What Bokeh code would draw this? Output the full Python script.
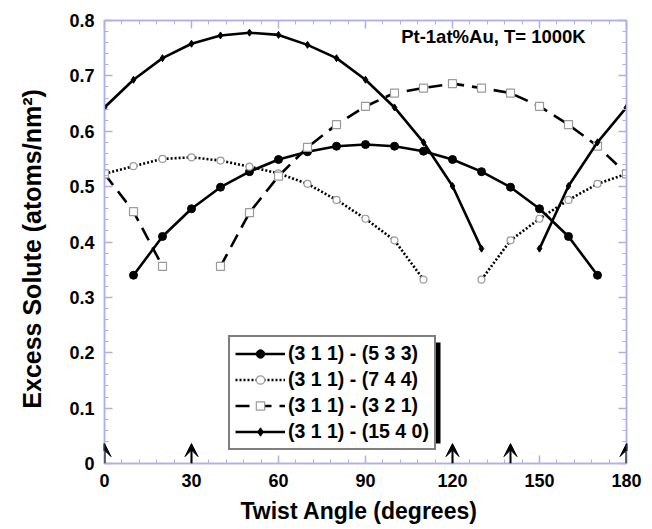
import math
from bokeh.plotting import figure
from bokeh.models import (LinearAxis, Range1d, Legend, LegendItem, Arrow, VeeHead,
                          ColumnDataSource, Label, FixedTicker, CustomJSTickFormatter, BoxAnnotation)
from bokeh.embed import file_html
from bokeh.resources import INLINE

NaN = float("nan")

# (3 1 1) - (5 3 3)
ang_533 = [10, 20, 30, 40, 50, 60, 70, 80, 90, 100, 110, 120, 130, 140, 150, 160, 170]
es_533 = [0.340, 0.410, 0.460, 0.499, 0.527, 0.549, 0.563, 0.573, 0.576, 0.573, 0.564,
          0.549, 0.527, 0.499, 0.460, 0.410, 0.340]

# (3 1 1) - (7 4 4), two branches
ang_744_a = [0, 10, 20, 30, 40, 50, 60, 70, 80, 90, 100, 110]
es_744_a = [0.523, 0.537, 0.550, 0.553, 0.547, 0.536, 0.524, 0.505, 0.476, 0.442, 0.403, 0.332]
ang_744_b = [130, 140, 150, 160, 170, 180]
es_744_b = [0.332, 0.403, 0.442, 0.476, 0.505, 0.523]

# (3 1 1) - (3 2 1), two branches
ang_321_a = [0, 10, 20]
es_321_a = [0.523, 0.455, 0.356]
ang_321_b = [40, 50, 60, 70, 80, 90, 100, 110, 120, 130, 140, 150, 160, 170, 180]
es_321_b = [0.356, 0.453, 0.519, 0.571, 0.612, 0.645, 0.669, 0.678, 0.686, 0.678, 0.669,
            0.645, 0.612, 0.573, 0.523]

# (3 1 1) - (15 4 0), two branches
ang_1540_a = [0, 10, 20, 30, 40, 50, 60, 70, 80, 90, 100, 110, 120, 130]
es_1540_a = [0.643, 0.693, 0.732, 0.758, 0.773, 0.778, 0.774, 0.756, 0.732, 0.693, 0.643,
             0.580, 0.501, 0.388]
ang_1540_b = [150, 160, 170, 180]
es_1540_b = [0.388, 0.501, 0.580, 0.643]

arrow_angles = [0, 30, 120, 140, 180]

x_ticks = [0, 30, 60, 90, 120, 150, 180]
y_ticks = [0, 0.1, 0.2, 0.3, 0.4, 0.5, 0.6, 0.7, 0.8]
legend_labels = ["(3 1 1) - (5 3 3)", "(3 1 1) - (7 4 4)", "(3 1 1) - (3 2 1)", "(3 1 1) - (15 4 0)"]
title_text = "Pt-1at%Au, T= 1000K"

FONT = "Liberation Sans"
AX = "#aeb0e6"

p = figure(width=652, height=529, x_range=Range1d(0, 180), y_range=Range1d(0, 0.8),
           output_backend="svg", toolbar_location=None,
           min_border_left=104, min_border_right=26, min_border_top=20, min_border_bottom=66,
           x_axis_label="Twist  Angle  (degrees)", y_axis_label="Excess  Solute  (atoms/nm²)")
p.grid.visible = False
p.outline_line_color = AX
p.outline_line_width = 1.5
p.background_fill_color = "white"
p.border_fill_color = "white"

x_minor = list(range(0, 181, 6))
y_minor = [i * 0.02 for i in range(41)]

def style_axis(ax, ticks, minor, labels=True):
    ax.ticker = FixedTicker(ticks=ticks, minor_ticks=minor)
    ax.axis_line_color = AX
    ax.axis_line_width = 1.5
    ax.major_tick_line_color = AX
    ax.minor_tick_line_color = AX
    ax.major_tick_line_width = 1.5
    ax.minor_tick_line_width = 1
    ax.major_tick_in = 8
    ax.major_tick_out = 0
    ax.minor_tick_in = 4
    ax.minor_tick_out = 0
    if labels:
        ax.major_label_text_font = FONT
        ax.major_label_text_font_style = "bold"
        ax.major_label_text_font_size = "18px"
        ax.major_label_text_color = "black"
        ax.axis_label_text_font = FONT
        ax.axis_label_text_font_style = "bold"
        ax.axis_label_text_color = "black"
    else:
        ax.formatter = CustomJSTickFormatter(code="return ''")
        ax.major_label_standoff = 0

style_axis(p.xaxis[0], x_ticks, x_minor)
style_axis(p.yaxis[0], y_ticks, y_minor)
p.xaxis[0].major_label_standoff = 10
p.yaxis[0].major_label_standoff = 10
p.xaxis[0].axis_label_text_font_size = "23px"
p.yaxis[0].axis_label_text_font_size = "25px"
p.xaxis[0].axis_label_standoff = 8
p.yaxis[0].axis_label_standoff = 20
p.yaxis[0].formatter.use_scientific = False

top_ax = LinearAxis()
style_axis(top_ax, x_ticks, x_minor, labels=False)
p.add_layout(top_ax, "above")
right_ax = LinearAxis()
style_axis(right_ax, y_ticks, y_minor, labels=False)
p.add_layout(right_ax, "right")

def join(a1, a2):
    return list(a1) + [NaN] + list(a2)

LW = 2.6
# series 1
r1l = p.line(ang_533, es_533, line_color="black", line_width=LW)
r1m = p.scatter(ang_533, es_533, marker="circle", size=8, fill_color="black", line_color="black")
# series 2
x2 = join(ang_744_a, ang_744_b); y2 = join(es_744_a, es_744_b)
r2l = p.line(x2, y2, line_color="black", line_width=LW, line_dash="2 2")
r2m = p.scatter(x2, y2, marker="circle", size=7, fill_color="white", line_color="#9a9a9a", line_width=1.2)
# series 3
x3 = join(ang_321_a, ang_321_b); y3 = join(es_321_a, es_321_b)
r3l = p.line(x3, y3, line_color="black", line_width=LW, line_dash="14 8")
r3m = p.scatter(x3, y3, marker="square", size=8, fill_color="white", line_color="#9a9a9a", line_width=1.2)
# series 4
x4 = join(ang_1540_a, ang_1540_b); y4 = join(es_1540_a, es_1540_b)
r4l = p.line(x4, y4, line_color="black", line_width=LW)
r4m = p.scatter(x4, y4, marker="diamond", size=7, fill_color="black", line_color="black")

# legend drop shadow (screen units, measured up from the frame's bottom-left)
shadow = BoxAnnotation(left=128, right=336, top=121, bottom=20,
                       left_units="screen", right_units="screen",
                       top_units="screen", bottom_units="screen",
                       fill_color="black", fill_alpha=1, line_color=None)
p.add_layout(shadow)

legend = Legend(items=[
    LegendItem(label=legend_labels[0], renderers=[r1l, r1m]),
    LegendItem(label=legend_labels[1], renderers=[r2l, r2m]),
    LegendItem(label=legend_labels[2], renderers=[r3l, r3m]),
    LegendItem(label=legend_labels[3], renderers=[r4l, r4m]),
], location=(124, 13))
legend.label_text_font = FONT
legend.label_text_font_style = "bold"
legend.label_text_font_size = "19.5px"
legend.label_text_color = "black"
legend.glyph_width = 50
legend.glyph_height = 21
legend.label_height = 21
legend.label_standoff = 3
legend.spacing = 3
legend.padding = 5
legend.margin = 0
legend.border_line_color = "black"
legend.border_line_width = 2
legend.background_fill_color = "white"
legend.background_fill_alpha = 1
p.add_layout(legend, "center")

src = ColumnDataSource(data=dict(x0=arrow_angles, y0=[0.0] * len(arrow_angles),
                                 x1=arrow_angles, y1=[0.036] * len(arrow_angles)))
p.add_layout(Arrow(end=VeeHead(size=13, fill_color="black", line_color="black"),
                   x_start="x0", y_start="y0", x_end="x1", y_end="y1", source=src,
                   line_color="black", line_width=2))

p.add_layout(Label(x=102.3, y=0.752, text=title_text, text_font=FONT, text_font_style="bold",
                   text_font_size="18.5px", text_color="black"))

open("out.html", "w").write(file_html(p, INLINE))
